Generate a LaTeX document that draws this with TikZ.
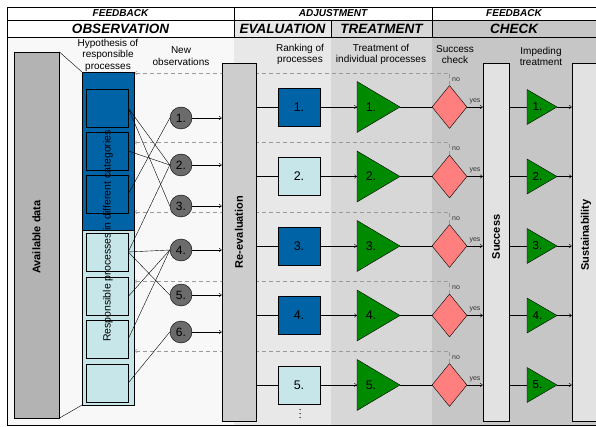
\documentclass[tikz,border=0pt]{standalone}
\usepackage{fontspec}
\setmainfont{Liberation Sans}
\usetikzlibrary{arrows.meta,shapes.geometric,calc}
\definecolor{dblue}{HTML}{0063A6}
\definecolor{lblue}{HTML}{C6E6EA}
\definecolor{tgreen}{HTML}{008A00}
\definecolor{dpink}{HTML}{FF7F7F}
\definecolor{cgray}{HTML}{6B6B6B}
\definecolor{bgA}{HTML}{F8F8F8}
\definecolor{bgB}{HTML}{E8E8E8}
\definecolor{bgC}{HTML}{D7D7D7}
\definecolor{bgD}{HTML}{C6C6C6}
\definecolor{availc}{HTML}{B3B3B3}
\definecolor{reevc}{HTML}{CDCDCD}
\definecolor{succc}{HTML}{E2E2E2}
\definecolor{fbgray}{HTML}{9A9A9A}
\pgfdeclarelayer{back}
\pgfdeclarelayer{mid}
\pgfsetlayers{back,mid,main}
\newcommand{\fsz}[1]{\fontsize{#1}{#1}\selectfont}
\begin{document}
\begin{tikzpicture}[x=1pt,y=-1pt,line width=0.7pt,
  box/.style={draw=black,rectangle,inner sep=0pt},
  inbox/.style={box,minimum width=42pt,minimum height=38pt},
  circ/.style={draw=black,circle,fill=cgray,minimum size=22pt,inner sep=0pt,font=\fsz{12}},
  sqbox/.style={box,minimum width=42pt,minimum height=38pt,font=\fsz{12.5}},
  bigtri/.style={draw=black,fill=tgreen},
  dia/.style={draw=black,diamond,fill=dpink,minimum width=35pt,minimum height=43pt,inner sep=0pt},
  arr/.style={-{To[length=3pt,width=4pt]}},
  fb/.style={draw=fbgray,dash pattern=on 4pt off 3pt,-{To[length=3pt,width=4pt]}},
  lbl/.style={align=center,font=\fontsize{10}{11.5}\selectfont,inner sep=0pt},
  hdA/.style={font=\fsz{10}\bfseries\itshape},
  hdB/.style={font=\fsz{13.5}\bfseries\itshape},
  vtxt/.style={rotate=90,font=\fsz{11}\bfseries},
  tiny/.style={font=\fsz{7},text=black!80,inner sep=0pt}
]
\useasboundingbox (0,0) rectangle (596,427);
\clip (0,0) rectangle (596,427);
% backgrounds
\begin{pgfonlayer}{back}
\fill[white] (0,0) rectangle (596,427);
\fill[bgA] (7,37) rectangle (234,425);
\fill[bgB] (234,20) rectangle (331,425);
\fill[bgC] (331,20) rectangle (432,425);
\fill[bgD] (432,20) rectangle (600,425);
\draw[line width=0.8pt] (7,7) rectangle (600,425);
\draw[line width=0.8pt] (7,20) -- (600,20) (7,37) -- (600,37)
  (234,7) -- (234,37) (432,7) -- (432,37) (331,20) -- (331,37);
\end{pgfonlayer}
% headers
\node[hdA] (h1) at (120.5,13.5) {FEEDBACK};
\node[hdA] (h2) at (333,13.5) {ADJUSTMENT};
\node[hdA] (h3) at (514,13.5) {FEEDBACK};
\node[hdB] (h4) at (120.5,28.8) {OBSERVATION};
\node[hdB] (h5) at (282.5,28.8) {EVALUATION};
\node[hdB] (h6) at (381.5,28.8) {TREATMENT};
\node[hdB] (h7) at (514,28.8) {CHECK};
% column labels
\node[lbl] (l1) at (108,55) {Hypothesis of\\responsible\\processes};
\node[lbl] (l2) at (181,56) {New\\observations};
\node[lbl] (l3) at (300,54.5) {Ranking of\\processes};
\node[lbl] (l4) at (381,54.5) {Treatment of\\individual processes};
\node[lbl] (l5) at (455,54.5) {Success\\check};
\node[lbl] (l6) at (541,56.5) {Impeding\\treatment};
% available data
\node[box,fill=availc,minimum width=45pt,minimum height=366pt] (avail) at (36.5,235) {};
\node[vtxt] (availt) at (36.5,237) {Available data};
% blue column
\node[box,fill=dblue,minimum width=52pt,minimum height=158pt] (dk) at (108,151) {};
\node[box,fill=lblue,minimum width=52pt,minimum height=175pt] (lt) at (108,317.5) {};
\draw (avail.north east) -- (dk.north west);
\draw (avail.south east) -- (lt.south west);
\foreach \i/\y/\c in {1/108/dblue,2/151/dblue,3/194/dblue,4/252/lblue,5/296.5/lblue,6/339/lblue,7/383/lblue}{
  \node[inbox,fill=\c] (b\i) at (107,\y) {};
}
\node[rotate=90,font=\fsz{10.5},inner sep=0pt] (rpt) at (108,236) {Responsible processes in different categories};
% circles
\foreach \i/\y in {1/118,2/165,3/206,4/250,5/295,6/332}{
  \node[circ] (c\i) at (181,\y) {\i.};
}
\foreach \a/\b in {1/2,1/3,2/2,3/1,4/2,4/4,4/5,5/4,6/4,7/6}{
  \draw (b\a.east) -- (c\b.west);
}
% re-evaluation
\node[box,fill=reevc,minimum width=34pt,minimum height=358pt] (re) at (239,242) {};
\node[vtxt] (ret) at (239,232) {Re-evaluation};
\foreach \i in {1,...,6}{
  \draw[arr] (c\i.east) -- (c\i.east -| re.west);
}
% success & sustainability
\node[box,fill=succc,minimum width=26pt,minimum height=358pt] (su) at (496,242) {};
\node[vtxt] (sut) at (496,237) {Success};
\node[box,fill=succc,minimum width=28pt,minimum height=358pt] (sus) at (586,242) {};
\node[vtxt] (sust) at (586,235) {Sustainability};
% rows
\foreach \i/\y/\c in {1/107/dblue,2/176.5/lblue,3/246/dblue,4/315.5/dblue,5/385/lblue}{
  \node[sqbox,fill=\c] (sq\i) at (299,\y) {\i.};
  \draw[bigtri] (357,\y-25.5) -- (400,\y) -- (357,\y+25.5) -- cycle;
  \coordinate (tl\i) at (357,\y);
  \coordinate (tr\i) at (400,\y);
  \node[font=\fsz{12.5},inner sep=0pt] (tt\i) at (371,\y) {\i.};
  \node[dia] (dm\i) at (449.5,\y) {};
  \draw[bigtri] (527,\y-17.5) -- (557,\y) -- (527,\y+17.5) -- cycle;
  \coordinate (sl\i) at (527,\y);
  \coordinate (sr\i) at (557,\y);
  \node[font=\fsz{11.5},inner sep=0pt] (st\i) at (537.5,\y) {\i.};
  \draw (re.east |- sq\i.west) -- (sq\i.west);
  \draw[arr] (sq\i.east) -- (tl\i);
  \draw (tr\i) -- (dm\i.west);
  \draw[arr] (dm\i.east) -- node[tiny,above=3pt] (ys\i) {yes} (dm\i.east -| su.west);
  \draw (su.east |- sl\i) -- (sl\i);
  \draw[arr] (sr\i) -- (sr\i -| sus.west);
  \coordinate (nt\i) at (449.5,\y-34);
  \node[tiny,anchor=west] (no\i) at (452,\y-27.5) {no};
  \begin{pgfonlayer}{mid}
    \draw[fb] (dm\i.north) -- (nt\i) -- (nt\i -| dk.east);
  \end{pgfonlayer}
}
% vertical ellipsis below the last ranking box
\foreach \k/\yy in {1/409.5,2/413.5,3/417.5}{
  \fill[black!80] (300,\yy) circle (0.75pt) coordinate (dt\k);
}
\end{tikzpicture}
\end{document}
